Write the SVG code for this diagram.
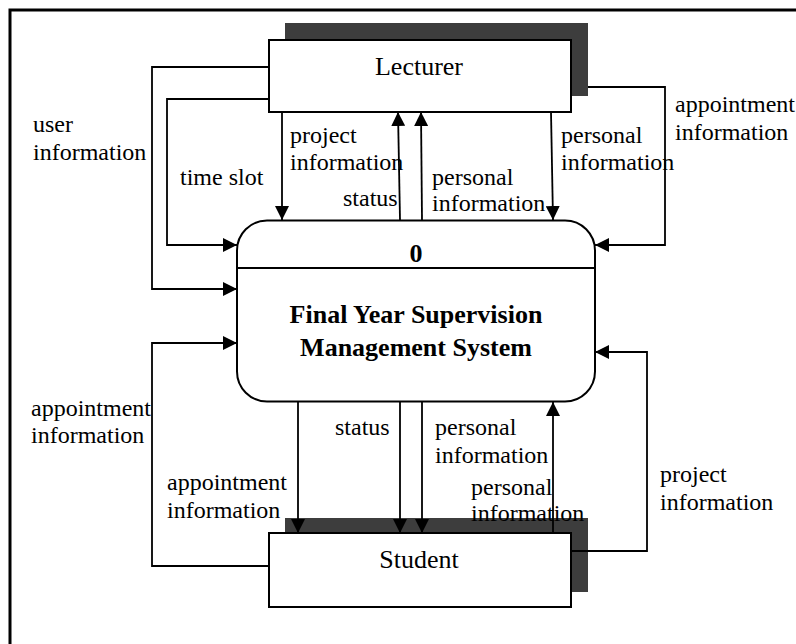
<svg xmlns="http://www.w3.org/2000/svg" width="796" height="644" viewBox="0 0 796 644">
<defs>
<marker id="ah" markerUnits="userSpaceOnUse" markerWidth="14" markerHeight="14" refX="14" refY="7" orient="auto">
<path d="M0,0 L14,7 L0,14 z" fill="#000"/>
</marker>
<style>
.box{fill:#fff;stroke:#000;stroke-width:2}
.shadow{fill:#3d3d3d}
.con{fill:none;stroke:#000;stroke-width:1.8;marker-end:url(#ah)}
.lbl{font-family:"Liberation Serif","Times New Roman",serif;font-size:24px;fill:#000}
.name{font-family:"Liberation Serif","Times New Roman",serif;font-size:26px;fill:#000;text-anchor:middle}
.bold{font-family:"Liberation Serif","Times New Roman",serif;font-size:26px;font-weight:bold;fill:#000;text-anchor:middle}
</style>
</defs>
<rect width="796" height="644" fill="#fff"/>
<rect x="10" y="10" width="820" height="700" fill="none" stroke="#000" stroke-width="3"/>

<g id="lecturer">
<rect class="shadow" x="285" y="23" width="303" height="73"/>
<rect class="box" x="269" y="40" width="302" height="72"/>
<text class="name" x="419" y="75">Lecturer</text>
</g>

<g id="student">
<rect class="shadow" x="285" y="518" width="303" height="74"/>
<rect class="box" x="269" y="533" width="302" height="74"/>
<text class="name" x="419" y="568">Student</text>
</g>

<g id="process">
<rect class="box" x="237" y="220.5" width="358" height="181" rx="30" ry="30"/>
<line x1="237" y1="268" x2="595" y2="268" stroke="#000" stroke-width="2"/>
<text class="bold" x="416" y="262">0</text>
<text class="bold" x="416" y="323">Final Year Supervision</text>
<text class="bold" x="416" y="356">Management System</text>
</g>

<g id="connectors">
<polyline class="con" points="269,67 152,67 152,289 237,289"/>
<polyline class="con" points="269,99 167,99 167,245 237,245"/>
<polyline class="con" points="282,112 282,220"/>
<polyline class="con" points="400,220 398,112"/>
<polyline class="con" points="422,220 421,112"/>
<polyline class="con" points="551,112 553,220"/>
<polyline class="con" points="588,87 665,87 665,245 595,245"/>
<polyline class="con" points="269,566 152,566 152,343 237,343"/>
<polyline class="con" points="298,402 298,533"/>
<polyline class="con" points="400,402 400,533"/>
<polyline class="con" points="422,402 422,533"/>
<polyline class="con" points="553,533 553,402"/>
<polyline class="con" points="571,551 647,551 647,352 595,352"/>
</g>

<g id="labels">
<text class="lbl" x="33" y="132">user</text>
<text class="lbl" x="33" y="160">information</text>
<text class="lbl" x="180" y="185">time slot</text>
<text class="lbl" x="290" y="143">project</text>
<text class="lbl" x="290" y="170">information</text>
<text class="lbl" x="343" y="206">status</text>
<text class="lbl" x="432" y="185">personal</text>
<text class="lbl" x="432" y="211">information</text>
<text class="lbl" x="561" y="143">personal</text>
<text class="lbl" x="561" y="170">information</text>
<text class="lbl" x="675" y="112">appointment</text>
<text class="lbl" x="675" y="140">information</text>
<text class="lbl" x="31" y="416">appointment</text>
<text class="lbl" x="31" y="443">information</text>
<text class="lbl" x="335" y="435">status</text>
<text class="lbl" x="435" y="435">personal</text>
<text class="lbl" x="435" y="463">information</text>
<text class="lbl" x="167" y="490">appointment</text>
<text class="lbl" x="167" y="518">information</text>
<text class="lbl" x="471" y="495">personal</text>
<text class="lbl" x="471" y="521">information</text>
<text class="lbl" x="660" y="482">project</text>
<text class="lbl" x="660" y="510">information</text>
</g>
</svg>
